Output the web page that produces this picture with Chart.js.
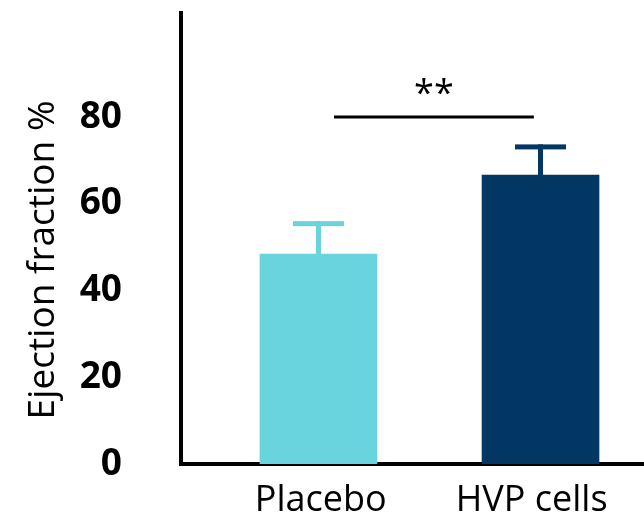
<!DOCTYPE html>
<html>
<head>
<meta charset="utf-8">
<script src="https://cdn.jsdelivr.net/npm/chart.js@4"></script>
<style>
  html, body { margin: 0; padding: 0; background: #fff; }
</style>
</head>
<body>
<canvas id="efChart" width="644" height="513"></canvas>
<script>
// data
const groups = ['Placebo', 'HVP cells'];
const ejectionFraction = [48.4, 66.6];
const errorUpper = [7.6, 7.1];
const barColors = ['#69D3DE', '#023764'];
const yTicks = [0, 20, 40, 60, 80];
const xLabelAt = [0.01, 0.96];
const yTitle = 'Ejection fraction %';
const sigLabel = '**';
const sigLevel = 80;
const sigFrom = 0.07;
const sigTo = 0.97;

// error bars, significance bracket and rotated axis title
const extras = {
  id: 'extras',
  afterDatasetsDraw(chart) {
    const { ctx, scales: { x, y } } = chart;
    ctx.save();
    groups.forEach((g, i) => {
      const cx = x.getPixelForValue(i);
      const top = y.getPixelForValue(ejectionFraction[i] + errorUpper[i]);
      const base = y.getPixelForValue(ejectionFraction[i]);
      ctx.fillStyle = barColors[i];
      ctx.fillRect(cx - 25.5, top, 51, 5);
      ctx.fillRect(cx - 2.5, top, 5, base - top);
    });

    const ly = y.getPixelForValue(sigLevel);
    const x1 = x.getPixelForValue(sigFrom);
    const x2 = x.getPixelForValue(sigTo);
    ctx.strokeStyle = '#000';
    ctx.lineWidth = 3;
    ctx.beginPath();
    ctx.moveTo(x1, ly);
    ctx.lineTo(x2, ly);
    ctx.stroke();

    ctx.fillStyle = '#000';
    ctx.font = '36px "Open Sans"';
    ctx.textAlign = 'center';
    ctx.textBaseline = 'alphabetic';
    ctx.fillText(sigLabel, (x1 + x2) / 2, ly - 12);

    ctx.font = '37px "Open Sans"';
    ctx.translate(43, 260);
    ctx.rotate(-Math.PI / 2);
    ctx.textBaseline = 'middle';
    ctx.fillText(yTitle, 0, 0);
    ctx.restore();
  }
};

const ctx = document.getElementById('efChart').getContext('2d');
new Chart(ctx, {
  type: 'bar',
  data: {
    datasets: [{
      data: ejectionFraction.map((v, i) => ({ x: i, y: v })),
      backgroundColor: barColors,
      borderWidth: 0,
      barThickness: 117
    }]
  },
  options: {
    responsive: false,
    animation: false,
    layout: { padding: { top: 13, right: 0, bottom: 0, left: 0 } },
    plugins: { legend: { display: false }, tooltip: { enabled: false } },
    scales: {
      x: {
        type: 'linear',
        min: -0.619,
        max: 1.466,
        offset: false,
        z: 1,
        grid: { display: false, drawTicks: false, offset: false },
        border: { display: true, color: '#000', width: 4 },
        afterBuildTicks: (s) => { s.ticks = xLabelAt.map((v) => ({ value: v })); },
        afterFit: (s) => { s.height = 49; s.paddingLeft = 0; s.paddingRight = 0; },
        ticks: {
          color: '#000',
          padding: 15,
          maxRotation: 0,
          autoSkip: false,
          font: { family: 'Open Sans', size: 36 },
          callback: (v, i) => groups[i] ?? ''
        }
      },
      y: {
        min: 0,
        max: 104,
        z: 1,
        grid: { display: false, drawTicks: false },
        border: { display: true, color: '#000', width: 4 },
        afterBuildTicks: (s) => { s.ticks = yTicks.map((v) => ({ value: v })); },
        afterFit: (s) => { s.width = 181; s.paddingTop = 0; s.paddingBottom = 0; },
        ticks: {
          color: '#000',
          padding: 59,
          font: { family: 'Open Sans', size: 37, weight: 'bold' }
        }
      }
    }
  },
  plugins: [extras]
});
</script>
</body>
</html>
